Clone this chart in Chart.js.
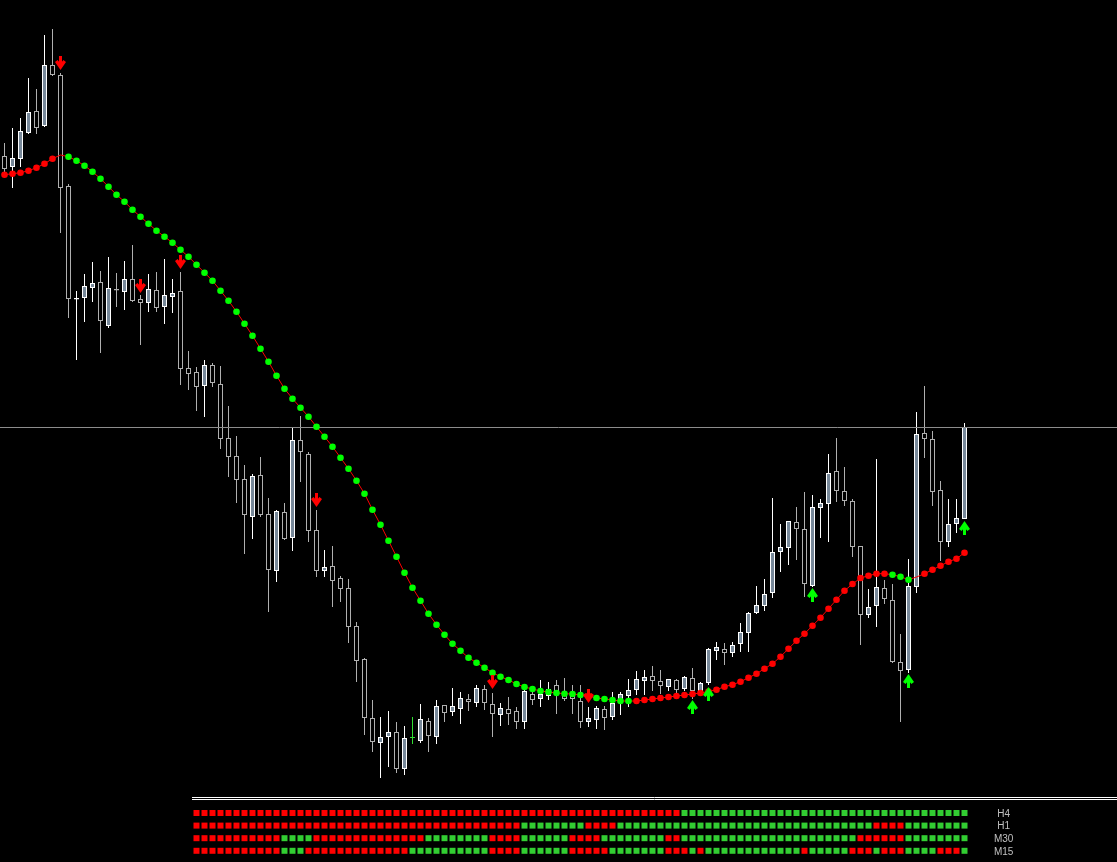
<!DOCTYPE html>
<html><head><meta charset="utf-8">
<script src="https://cdn.jsdelivr.net/npm/chart.js@4.4.1/dist/chart.umd.min.js"></script>
<style>html,body{margin:0;padding:0;background:#000;overflow:hidden}canvas{display:block}</style>
</head><body>
<canvas id="c" width="1117" height="862"></canvas>
<script>
// ---- candle data (price units) ----
const open = [706,695,703,729,751,736,797,787,676,562.5, 564,574,580,536,573,570,583,563,559,572,
  555,565,571,494,490,476,497,478,424,406, 383,345,387,348,291,350,324,422,408,332,
  291,296,284,274,236,203,144,119,125,130, 93,124,121,141,125,157,150,153,163,159,
  173,158,147,153,151,140,168,163,166,177, 168,167,161,140,142,153,145,159,166,172,
  181,186,181,175,182,173,184,170,179,211, 213,209,218,229,249,256,269,310,314,340,
  333,276,354,358,391,371,361,316,247,256, 274,262,200,192,275,429,423,372,320,338, 343];
const high = [719,734,744,784,773,827,833,789,678,571, 588,600,591,605,589,601,617,567,588,590,
  603,583,590,511,495,502,499,496,456,426, 397,388,405,364,352,359,435,446,410,352,
  312,316,286,283,240,204,162,145,151,140, 136,145,158,144,162,157,174,170,168,177,
  177,169,159,165,155,177,172,182,180,182, 184,177,177,155,156,156,170,170,183,191,
  192,196,192,183,183,186,194,180,214,220, 219,220,239,250,276,283,364,338,341,355,
  370,367,363,408,424,395,363,316,273,403, 282,278,228,303,450,476,431,381,363,363, 439];
const low = [685,674,695,728,728,735,786,629,544,502, 540,560,509,534,555,552,560,517,550,550,
  538,549,477,472,451,445,475,413,385,359, 308,323,345,250,280,322,311,380,320,285,
  285,255,260,219,180,127,110,84,95,89, 87,118,119,110,118,140,146,138,151,155,
  152,125,136,137,133,133,157,155,162,148, 161,148,134,135,133,132,142,147,155,167,
  167,171,168,171,167,171,163,168,177,202, 197,205,210,210,248,251,264,290,297,302,
  265,275,324,320,360,356,305,217,244,235, 258,199,140,189,269,404,356,301,315,329, 343];
const close = [693,704,731,750,734,797,787,674,563,564, 576,579,541,574,571.5,583,561,559,573,554,
  567,569,493,488,475,497,479,423,405,382, 347,386,347,292,351,323,422,410,331,291,
  295,281,273,235,201,144,120,125,130,93, 124,124,143,126,156,149,156,164,160,174,
  159,148,154,148,140,171,162,168,173,167, 163,163,140,144,154,144,159,168,172,183,
  185,181,176,183,172,185,171,179,213,215, 209,217,230,249,257,268,310,315,341,333,
  278,355,359,389,371,361,315,247,255,275, 263,200,191,276,428,423,370,320,338,344, 435];

// ---- dotted moving average ----
const ma = [687.3,688.3,689.3,691.3,694.3,698.3,703.3,707,705.3,701.3,
  696.3,690.3,683.3,675.3,667.3,660.3,652.3,645.3,638.3,631.3,
  625.3,619.3,612.3,605.3,597.3,589.3,581.3,571.3,561.3,550.3,
  538.3,526.3,513.3,500.3,486.3,473.3,463.3,454.3,445.3,435.3,
  425.3,415.3,404.3,393.3,381.3,368.3,352.3,337.3,321.3,305.3,
  289.3,274.3,261.3,248.3,237.3,227.3,218.3,211.3,204.3,199.3,
  194.3,189.3,185.3,182,178,175,173,171,170,169,
  168.3,168,167,166,164,163,162,161,161,161,
  162,163,164,165,166,167,168,169,170.5,172.3,
  175.3,177.3,180.3,184.3,188.3,193.3,198.3,205.3,213.3,221.3,
  228.3,236.3,244.3,253.3,262.3,271.3,278,284,286.3,288.3,
  288.3,287.3,285.3,282.3,285,288.3,292.3,296.3,300.3,303.3, 309.3];
// r = falling (red dot), g = rising (green dot), - = no dot
const maState = ('rrrrrrr-gg gggggggggg gggggggggg gggggggggg gggggggggg gggggggggg gggggggggg ' +
  'gggrgggggr rrrrrrrrrr rrrrrrrrrr rrrrrrrrrr rggg-rrrrr r').replace(/ /g, '');

// ---- signal arrows (candle index, price) ----
const sellArrows = [{x:7,y:799},{x:17,y:576},{x:22,y:600},{x:39,y:362},{x:61,y:180},{x:73,y:166}];
const buyArrows = [{x:86,y:155},{x:88,y:168},{x:101,y:267},{x:113,y:181},{x:120,y:334}];
const bidPrice = 434.5;

// ---- multi-timeframe trend panel ----
const tfLabels = ['H4', 'H1', 'M30', 'M15'];
const tfH4  = 'RRRRRRRRRR RRRRRRRRRR RRRRRRRRRR RRRRRRRRRR RRRRRRRRRR RRRRRRRRRR RGGGGGGGGG GGGGGGGGGG GGGGGGGGGG GGGGGGG';
const tfH1  = 'RRRRRRRRRR RRRRRRRRRR RRRRRRRRRR RRRRRRRRRR RGGGGGGGGR RRRGGGGGGG GGGGGGGGGG GGGGGGGGGG GGGGGRRRRG GGGGGGG';
const tfM30 = 'RRRRRRRRRR RGGGGRRRRR RRRRRRRRRG GGGGGGGRRR RGGGGGGRRR RGGGGGGGGR RGGGGGGGGG GGGGGGGGGG GGGRRRRRRG GGGGGGG';
const tfM15 = 'RRRRRRRRRR RGGGRRRRRR RRRRRRRGGG GGGGGGGRRR RGGGGGGRRR RRGGGGGGGR RRGRGGGGGG GGGGGGRGGG GGRRRGRRRG GGGRRRG';
const tfStates = [tfH4, tfH1, tfM30, tfM15].map(s => s.replace(/ /g, ''));
const panelStart = 24;          // first candle covered by the panel
const panelRules = [-1.23, -1.07];
const labelX = 124.9;

// ---- styles ----
const X_MIN = -0.5625, X_MAX = 139.0625;
const BULL_FILL = '#778899', BULL_LINE = '#ffffff', BEAR_FILL = '#000000', BEAR_LINE = '#b0b0b0', DOJI = '#32dc32';
const kind = open.map((o, i) => close[i] > o ? 'bull' : (close[i] < o ? 'bear' : 'doji'));
const lineCol = kind.map(k => k === 'bull' ? BULL_LINE : (k === 'bear' ? BEAR_LINE : DOJI));
const fillCol = kind.map(k => k === 'bull' ? BULL_FILL : (k === 'bear' ? BEAR_FILL : DOJI));

function makeArrow(color, up) {
  const c = document.createElement('canvas');
  c.width = 11; c.height = 14;
  const g = c.getContext('2d');
  g.fillStyle = color;
  if (up) { g.translate(0, 14); g.scale(1, -1); }
  g.fillRect(4, 0, 3, 11);
  g.beginPath();
  g.moveTo(0, 6); g.lineTo(2.6, 4); g.lineTo(5.5, 7.6); g.lineTo(8.4, 4); g.lineTo(11, 6); g.lineTo(5.5, 14);
  g.closePath(); g.fill();
  return c;
}

const idx = open.map((_, i) => i);
const datasets = [
  { type: 'bar', label: 'wick', order: 9, grouped: false, barThickness: 1, inflateAmount: 0,
    data: idx.map(i => ({ x: i, y: [low[i], high[i]] })),
    backgroundColor: lineCol, borderWidth: 0 },
  { type: 'bar', label: 'body', order: 8, grouped: false, barThickness: 5, inflateAmount: 0, minBarLength: 1,
    data: idx.map(i => ({ x: i, y: [open[i], close[i]] })),
    backgroundColor: fillCol, borderColor: lineCol, borderWidth: 1, borderSkipped: false },
  { type: 'line', label: 'bid', order: 7, data: [{ x: X_MIN, y: bidPrice }, { x: X_MAX, y: bidPrice }],
    borderColor: '#8c8c8c', borderWidth: 1, pointRadius: 0 },
  { type: 'line', label: 'ma', order: 6, data: idx.map(i => ({ x: i, y: ma[i] })),
    borderColor: '#ff0000', borderWidth: 1, tension: 0,
    pointRadius: idx.map(i => maState[i] === '-' ? 0 : 3.3),
    pointBackgroundColor: idx.map(i => maState[i] === 'g' ? '#00ff00' : '#ff0000'),
    pointBorderWidth: 0 },
  { type: 'scatter', label: 'sell', order: 5, data: sellArrows, pointStyle: makeArrow('#ff0000', false), pointRadius: 6 },
  { type: 'scatter', label: 'buy', order: 5, data: buyArrows, pointStyle: makeArrow('#00ff00', true), pointRadius: 6 }
];
tfStates.forEach((row, r) => {
  datasets.push({ type: 'scatter', label: tfLabels[r], order: 4, yAxisID: 'yInd',
    data: row.split('').map((_, k) => ({ x: panelStart + k, y: r })),
    pointStyle: 'rect', pointRadius: 4.2426, pointBorderWidth: 0,
    pointBackgroundColor: row.split('').map(s => s === 'G' ? '#32cd32' : '#ff0000') });
});
panelRules.forEach(v => {
  datasets.push({ type: 'line', order: 4, yAxisID: 'yInd', data: [{ x: panelStart - 0.5625, y: v }, { x: X_MAX, y: v }],
    borderColor: '#ffffff', borderWidth: 1, pointRadius: 0 });
});

const labelPlugin = {
  id: 'tfLabels',
  afterDatasetsDraw(chart) {
    const ctx = chart.ctx, xs = chart.scales.x, ys = chart.scales.yInd;
    ctx.save();
    ctx.font = '10px "Liberation Sans", Arial, sans-serif';
    ctx.fillStyle = '#c0c0c0';
    ctx.textAlign = 'center';
    ctx.textBaseline = 'middle';
    tfLabels.forEach((t, r) => ctx.fillText(t, xs.getPixelForValue(labelX), ys.getPixelForValue(r + 0.08)));
    ctx.restore();
  }
};

new Chart(document.getElementById('c'), {
  type: 'bar',
  data: { datasets },
  options: {
    responsive: false, animation: false, devicePixelRatio: 1, events: [],
    layout: { padding: 0, autoPadding: false },
    plugins: { legend: { display: false }, tooltip: { enabled: false } },
    scales: {
      x: { type: 'linear', min: X_MIN, max: X_MAX, offset: false, display: false, grid: { display: false } },
      y: { type: 'linear', min: 0, max: 862, display: false, grid: { display: false } },
      yInd: { type: 'linear', reverse: true, min: -64.524, max: 3.889, display: false, grid: { display: false } }
    }
  },
  plugins: [labelPlugin]
});
</script>
</body></html>
